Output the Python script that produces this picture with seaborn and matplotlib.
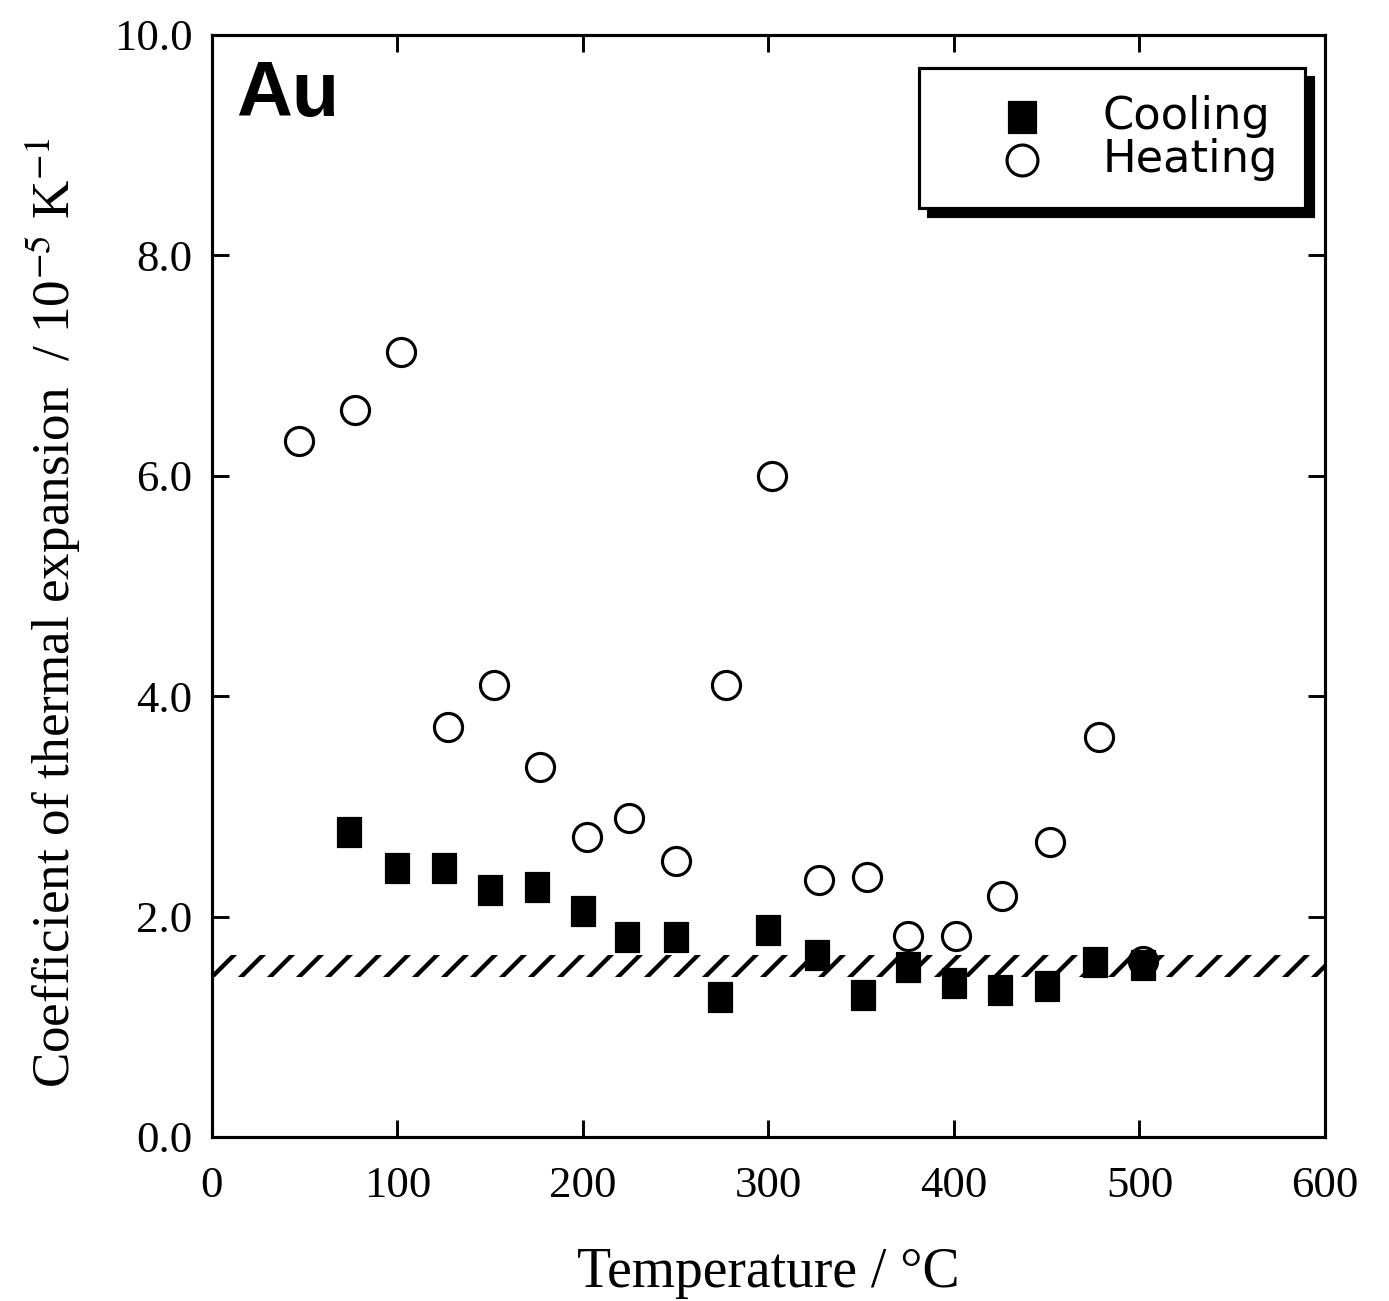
import numpy as np
import pandas as pd
import seaborn as sns
import matplotlib.pyplot as plt
from matplotlib.ticker import FormatStrFormatter

# Au: coefficient of thermal expansion vs temperature
cool_temp = [74, 100, 125, 150, 175, 200, 224, 250, 274, 300, 326, 351, 375, 400, 425, 450, 476, 502]
cool_cte = [2.77, 2.44, 2.44, 2.24, 2.27, 2.05, 1.81, 1.81, 1.27, 1.88, 1.65, 1.29, 1.54, 1.40, 1.33, 1.37, 1.59, 1.56]

heat_temp = [47, 77, 102, 127, 152, 177, 202, 225, 250, 277, 302, 327, 353, 375, 401, 426, 452, 478, 502]
heat_cte = [6.32, 6.60, 7.12, 3.72, 4.10, 3.36, 2.72, 2.89, 2.50, 4.10, 6.00, 2.33, 2.36, 1.82, 1.82, 2.19, 2.68, 3.63, 1.60]

# bulk value band (hatched)
bulk_low, bulk_high = 1.45, 1.65

x_ticks = [0, 100, 200, 300, 400, 500, 600]
y_ticks = [0, 2, 4, 6, 8, 10]

cooling = pd.DataFrame({"T": cool_temp, "cte": cool_cte})
heating = pd.DataFrame({"T": heat_temp, "cte": heat_cte})

sns.set_style("white")
plt.rcParams["font.family"] = ["Liberation Serif", "DejaVu Serif"]
plt.rcParams["mathtext.fontset"] = "stix"
plt.rcParams["hatch.linewidth"] = 1.8
plt.rcParams["hatch.color"] = "black"
plt.rcParams["text.color"] = "black"
plt.rcParams["axes.labelcolor"] = "black"

DPI = 174
fig = plt.figure(figsize=(1389 / DPI, 1301 / DPI), dpi=DPI)
ax = fig.add_axes([0.1526, 0.1261, 0.8013, 0.8470])

# hatched band across the whole range
ax.fill_between([0, 600], bulk_low, bulk_high, facecolor="white", edgecolor="black",
                hatch="//", linewidth=0, zorder=1)

sns.scatterplot(data=heating, x="T", y="cte", ax=ax, marker="o", s=135,
                facecolor="white", edgecolor="black", linewidth=1.3,
                label="Heating", zorder=3)
rect = [(-0.42, -0.5), (0.42, -0.5), (0.42, 0.5), (-0.42, 0.5), (-0.42, -0.5)]
sns.scatterplot(data=cooling, x="T", y="cte", ax=ax, marker=rect, s=150,
                color="black", edgecolor="black", linewidth=0.5,
                label="Cooling", zorder=4)

ax.set_xlim(0, 600)
ax.set_ylim(0, 10)
ax.set_xticks(x_ticks)
ax.set_yticks(y_ticks)
ax.yaxis.set_major_formatter(FormatStrFormatter("%.1f"))
ax.tick_params(direction="in", length=7, width=1.2, top=True, right=True,
               bottom=True, left=True, labelsize=18.5, colors="black")
ax.tick_params(axis="x", pad=12)
ax.tick_params(axis="y", pad=8)
for sp in ax.spines.values():
    sp.set_linewidth(1.3)
    sp.set_color("black")

ax.set_xlabel("Temperature / °C", fontsize=23)
ax.set_ylabel("Coefficient of thermal expansion  / 10$^{-5}$ K$^{-1}$", fontsize=22)
ax.xaxis.set_label_coords(0.5, -0.1)
ax.yaxis.set_label_coords(-0.116, 0.476)

ax.text(0.022, 0.978, "Au", transform=ax.transAxes, ha="left", va="top",
        fontsize=32, fontweight="bold", family=["Liberation Sans", "DejaVu Sans"])

handles, labels = ax.get_legend_handles_labels()
order = [labels.index("Cooling"), labels.index("Heating")]
leg = ax.legend([handles[i] for i in order], [labels[i] for i in order],
                loc="upper right", bbox_to_anchor=(0.982, 0.970), borderaxespad=0,
                prop={"family": ["DejaVu Sans"], "size": 18.5},
                handlelength=3.4, handletextpad=0.1, labelspacing=0.0,
                borderpad=0.6, fancybox=False, framealpha=1, markerscale=1.1,
                shadow={"ox": 3.5, "oy": -3.5, "shade": 1.0, "alpha": 1})
leg.get_frame().set_edgecolor("black")
leg.get_frame().set_linewidth(1.3)

fig.savefig("out.png", dpi=DPI)
